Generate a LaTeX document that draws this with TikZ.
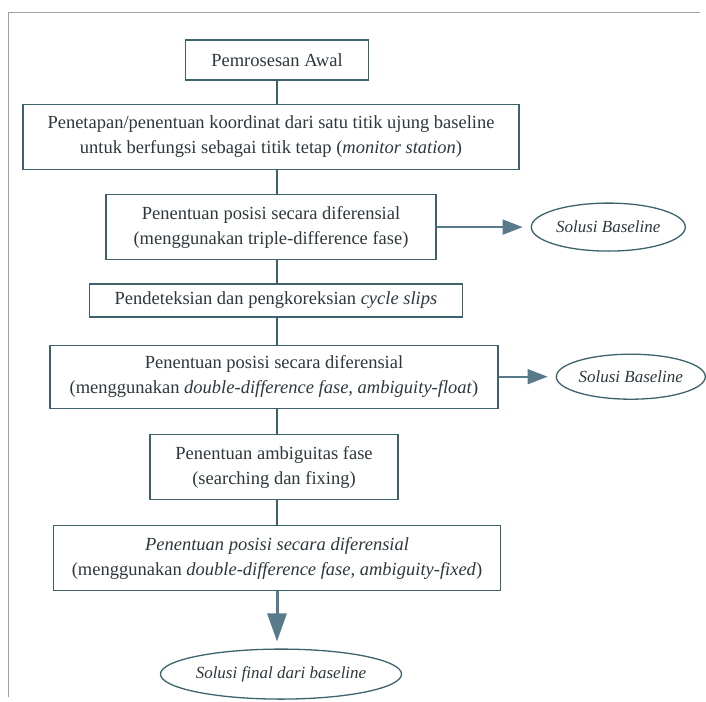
\documentclass[tikz,border=0pt]{standalone}
\usepackage{fontspec}
\setmainfont{Liberation Serif}
\usepackage{tikz}
\usetikzlibrary{arrows.meta,positioning,shapes.geometric}
\definecolor{cline}{RGB}{62,98,108}
\definecolor{ctext}{RGB}{45,55,60}
\definecolor{carr}{RGB}{88,122,138}
\tikzset{
  box/.style={rectangle,draw=cline,line width=1.3pt,text=ctext,align=center,
    inner sep=2pt,minimum height=65pt,font=\fontsize{18.5}{25}\selectfont},
  onebox/.style={box,minimum height=40pt},
  oval/.style={ellipse,draw=cline,line width=1.3pt,text=ctext,inner sep=0pt,
    font=\fontsize{17}{20}\selectfont\itshape},
  % arrows: thin ones to the side, a thick one downwards
  arr/.style={-{Triangle[length=20pt,width=15pt]},line width=1.6pt,
    draw=carr,fill=carr,shorten >=8pt},
  bigarr/.style={-{Triangle[length=28pt,width=19pt]},line width=3pt,
    draw=carr,fill=carr,shorten >=7pt},
  link/.style={line width=1.3pt,draw=cline}
}
\begin{document}
\begin{tikzpicture}[x=1pt,y=-1pt,node distance=24pt]
  \useasboundingbox (0,0) rectangle (706,701);
  \draw[line width=1pt,gray!75] (700,13) -- (8,13) -- (8,697);
  \node[onebox, minimum width=183pt] (b1) at (277,60) {Pemrosesan Awal};
  \node[box, minimum width=496pt, below=23pt of b1, xshift=-6pt] (b2)
    {Penetapan/penentuan koordinat dari satu titik ujung baseline\\
     untuk berfungsi sebagai titik tetap (\textit{monitor station})};
  \node[box, minimum width=330pt, below=of b2] (b3)
    {Penentuan posisi secara diferensial\\
     (menggunakan triple-difference fase)};
  \node[onebox, minimum width=373pt, minimum height=33pt, below=23pt of b3,
    xshift=5pt] (b4)
    {Pendeteksian dan pengkoreksian \textit{cycle slips}};
  \node[box, minimum width=448pt, minimum height=63pt, below=27pt of b4,
    xshift=-2pt] (b5)
    {Penentuan posisi secara diferensial\\
     (menggunakan \textit{double-difference fase, ambiguity-float})};
  \node[box, minimum width=248pt, below=25pt of b5] (b6)
    {Penentuan ambiguitas fase\\ (searching dan fixing)};
  \node[box, minimum width=447pt, below=25pt of b6, xshift=3pt] (b7)
    {\textit{Penentuan posisi secara diferensial}\\
     (menggunakan \textit{double-difference fase, ambiguity-fixed})};
  \node[oval, minimum width=154pt, minimum height=48pt, right=94pt of b3] (s1)
    {Solusi Baseline};
  \node[oval, minimum width=149pt, minimum height=45pt, right=57pt of b5] (s2)
    {Solusi Baseline};
  \node[oval, minimum width=233pt, minimum height=50pt, below=57pt of b7,
    xshift=4pt] (s3)
    {Solusi final dari baseline};
  \draw[link] (b1) -- (b1 |- b2.north);
  \draw[link] (b1 |- b2.south) -- (b1 |- b3.north);
  \draw[link] (b1 |- b3.south) -- (b1 |- b4.north);
  \draw[link] (b1 |- b4.south) -- (b1 |- b5.north);
  \draw[link] (b1 |- b5.south) -- (b1 |- b6.north);
  \draw[link] (b1 |- b6.south) -- (b1 |- b7.north);
  \draw[arr] (b3) -- (s1);
  \draw[arr] (b5) -- (s2);
  \draw[bigarr] (b1 |- b7.south) -- (b1 |- s3.north);
\end{tikzpicture}
\end{document}
